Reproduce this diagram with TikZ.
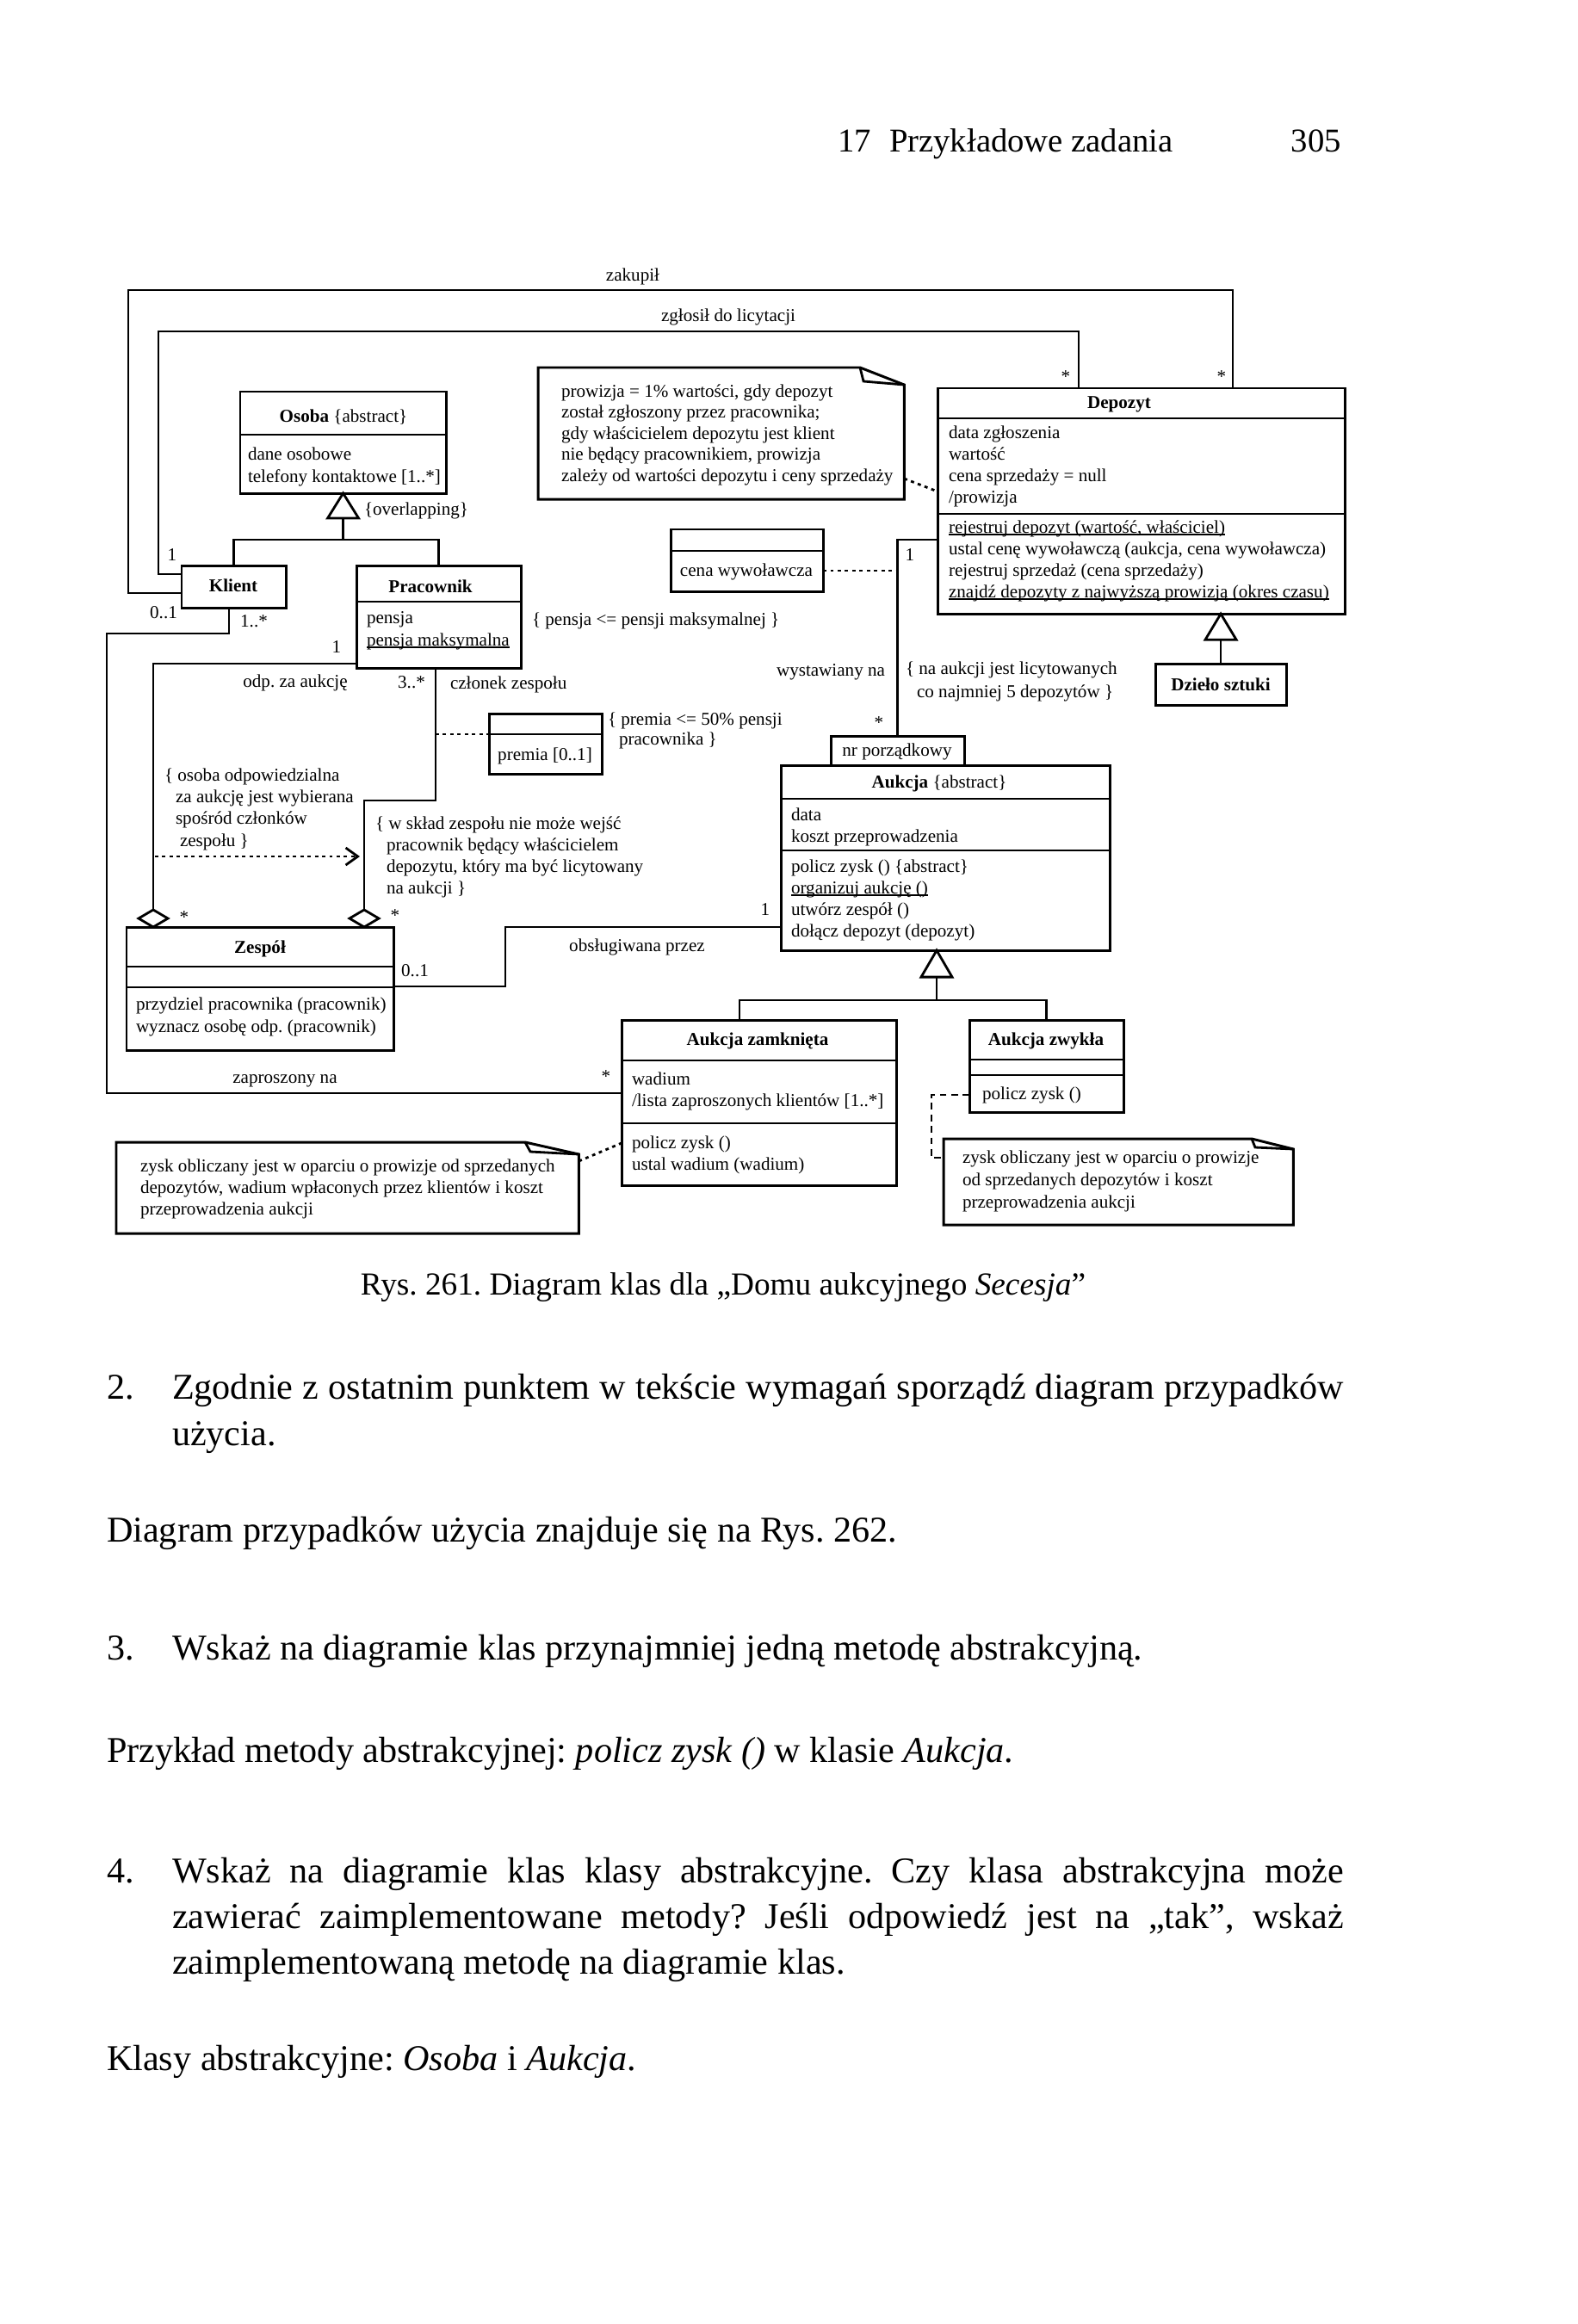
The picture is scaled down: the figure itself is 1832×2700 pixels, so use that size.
\documentclass[tikz,border=0pt]{standalone}
\usepackage{fontspec}
\setmainfont{Liberation Serif}
\usetikzlibrary{arrows.meta,shapes.geometric,calc}
\frenchspacing
\newcommand\txtlines[5]{%
  \foreach \lineitem [count=\i] in {#5}{%
    \node[dia,anchor=base west] (#1\i) at (#2,{#3+#4*(\i-1)}) {\lineitem};}}
\newcommand\ubox[5]{\node[box,minimum width=#4,minimum height=#5] (#1) at (#2,#3) {};}
\newcommand\uln[1]{\setbox0\hbox{#1}\rlap{\rule[-0.75pt]{\wd0}{0.35pt}}\box0}
\begin{document}
\begin{tikzpicture}[x=0.01cm,y=-0.01cm,
  every node/.style={inner sep=0pt,outer sep=0pt},
  dia/.style={font=\fontsize{6}{7}\selectfont},
  body/.style={font=\fontsize{12}{15}\selectfont,anchor=base west},
  box/.style={draw,line width=0.85pt,anchor=north west},
  ln/.style={line width=0.8pt},
  dot/.style={line width=0.8pt,dash pattern=on 1.1pt off 1.3pt},
  dsh/.style={line width=0.8pt,dash pattern=on 2.2pt off 1.6pt},
  tri/.style={line width=0.8pt,fill=white},
  agg/.style={diamond,draw,line width=0.8pt,fill=white,minimum width=0.34cm,minimum height=0.2cm}]
\fill[white] (0,0) rectangle (1832,2700);
\useasboundingbox (0,0) rectangle (1832,2700);

% ---------- header ----------
\node[font=\fontsize{11}{13}\selectfont,anchor=base west] (hdrA) at (973,177) {17};
\node[font=\fontsize{11}{13}\selectfont,anchor=base west] (hdrB) at (1033,177) {Przykładowe zadania};
\node[font=\fontsize{11}{13}\selectfont,anchor=base east] (hdrC) at (1558,177) {305};

% ---------- classes ----------
\ubox{osoba}{279}{455}{2.39cm}{1.18cm}
\draw[ln] (osoba.west |- 0,505) -- (osoba.east |- 0,505);
\node[dia,anchor=base] (osobaN) at (399,490) {\textbf{Osoba} \{abstract\}};
\txtlines{osobaA}{288}{534}{26}{dane osobowe,telefony kontaktowe [1..*]}

\ubox{klient}{211}{657}{1.21cm}{0.49cm}
\node[dia,anchor=base] (klientN) at (271,687) {\textbf{Klient}};

\ubox{pracownik}{414}{657}{1.91cm}{1.19cm}
\draw[ln] (pracownik.west |- 0,699) -- (pracownik.east |- 0,699);
\node[dia,anchor=base] (pracN) at (500,688) {\textbf{Pracownik}};
\txtlines{pracA}{426}{724}{26}{pensja,\uln{pensja maksymalna}}

\ubox{cena}{779}{615}{1.77cm}{0.72cm}
\draw[ln] (cena.west |- 0,640) -- (cena.east |- 0,640);
\node[dia,anchor=base] (cenaA) at (867,669) {cena wywoławcza};

\ubox{depozyt}{1089}{451}{4.73cm}{2.62cm}
\draw[ln] (depozyt.west |- 0,486) -- (depozyt.east |- 0,486);
\draw[ln] (depozyt.west |- 0,597) -- (depozyt.east |- 0,597);
\node[dia,anchor=base] (depN) at (1300,474) {\textbf{Depozyt}};
\txtlines{depA}{1102}{509}{25}{data zgłoszenia,wartość,cena sprzedaży = null,/prowizja}
\txtlines{depO}{1102}{619}{25}{{\uln{rejestruj depozyt (wartość, właściciel)}},{ustal cenę wywoławczą (aukcja, cena wywoławcza)},rejestruj sprzedaż (cena sprzedaży),{\uln{znajdź depozyty z najwyższą prowizją (okres czasu)}}}

\ubox{dzielo}{1342}{771}{1.52cm}{0.48cm}
\node[dia,anchor=base] (dzieloN) at (1418,802) {\textbf{Dzieło sztuki}};

\ubox{premia}{568}{829}{1.31cm}{0.70cm}
\draw[ln] (premia.west |- 0,853) -- (premia.east |- 0,853);
\node[dia,anchor=base] (premiaA) at (633,883) {premia [0..1]};

\ubox{qual}{965}{855}{1.55cm}{0.34cm}
\node[dia,anchor=base] (qualA) at (1042,878) {nr porządkowy};

\ubox{aukcja}{907}{889}{3.82cm}{2.15cm}
\draw[ln] (aukcja.west |- 0,928) -- (aukcja.east |- 0,928);
\draw[ln] (aukcja.west |- 0,988) -- (aukcja.east |- 0,988);
\node[dia,anchor=base] (aukN) at (1091,915) {\textbf{Aukcja} \{abstract\}};
\txtlines{aukA}{919}{953}{25}{data,koszt przeprowadzenia}
\txtlines{aukO}{919}{1013}{25}{policz zysk () \{abstract\},\uln{organizuj aukcję ()},utwórz zespół (),dołącz depozyt (depozyt)}

\ubox{zespol}{147}{1077}{3.10cm}{1.43cm}
\draw[ln] (zespol.west |- 0,1123) -- (zespol.east |- 0,1123);
\draw[ln] (zespol.west |- 0,1147) -- (zespol.east |- 0,1147);
\node[dia,anchor=base] (zespN) at (302,1107) {\textbf{Zespół}};
\txtlines{zespO}{158}{1173}{26}{przydziel pracownika (pracownik),wyznacz osobę odp. (pracownik)}

\ubox{zamk}{722}{1185}{3.19cm}{1.92cm}
\draw[ln] (zamk.west |- 0,1232) -- (zamk.east |- 0,1232);
\draw[ln] (zamk.west |- 0,1305) -- (zamk.east |- 0,1305);
\node[dia,anchor=base] (zamkN) at (880,1214) {\textbf{Aukcja zamknięta}};
\txtlines{zamkA}{734}{1260}{25}{wadium,/lista zaproszonych klientów [1..*]}
\txtlines{zamkO}{734}{1334}{25}{policz zysk (),ustal wadium (wadium)}

\ubox{zwykla}{1126}{1185}{1.79cm}{1.07cm}
\draw[ln] (zwykla.west |- 0,1231) -- (zwykla.east |- 0,1231);
\draw[ln] (zwykla.west |- 0,1249) -- (zwykla.east |- 0,1249);
\node[dia,anchor=base] (zwykN) at (1215,1214) {\textbf{Aukcja zwykła}};
\node[dia,anchor=base west] (zwykO) at (1141,1277) {policz zysk ()};

% ---------- notes ----------
\node[anchor=north west,minimum width=4.25cm,minimum height=1.53cm] (note1) at (625,427) {};
\draw[box] (note1.north west) -- (999,427) -- (note1.east |- 0,447) -- (note1.south east) -- (note1.south west) -- cycle;
\draw[ln] (999,427) -- (1003,443) -- (note1.east |- 0,447);
\txtlines{n1}{652}{461}{24.5}{{prowizja = 1\% wartości, gdy depozyt},został zgłoszony przez pracownika;,gdy właścicielem depozytu jest klient,{nie będący pracownikiem, prowizja},zależy od wartości depozytu i ceny sprzedaży}

\node[anchor=north west,minimum width=5.37cm,minimum height=1.06cm] (note2) at (135,1327) {};
\draw[box] (note2.north west) -- (610,1327) -- (note2.east |- 0,1341) -- (note2.south east) -- (note2.south west) -- cycle;
\draw[ln] (610,1327) -- (616,1338) -- (note2.east |- 0,1341);
\txtlines{n2}{163}{1361}{25}{zysk obliczany jest w oparciu o prowizje od sprzedanych,{depozytów, wadium wpłaconych przez klientów i koszt},przeprowadzenia aukcji}

\node[anchor=north west,minimum width=4.06cm,minimum height=1.00cm] (note3) at (1096,1323) {};
\draw[box] (note3.north west) -- (1454,1323) -- (note3.east |- 0,1335) -- (note3.south east) -- (note3.south west) -- cycle;
\draw[ln] (1454,1323) -- (1458,1333) -- (note3.east |- 0,1335);
\txtlines{n3}{1118}{1351}{26}{zysk obliczany jest w oparciu o prowizje,od sprzedanych depozytów i koszt,przeprowadzenia aukcji}

% ---------- generalizations ----------
\coordinate (gOt) at ($(osoba.south)+(0,29)$);
\coordinate (gOb) at ($(osoba.south)+(0,54)$);
\draw[tri] (osoba.south) -- ++(18,29) -- ++(-36,0) -- cycle;
\draw[ln] (gOt) -- (gOb);
\draw[ln] (klient.north) |- (gOb) -| (pracownik.north);

\coordinate (gDa) at (depozyt.south -| dzielo.north);
\coordinate (gDt) at ($(gDa)+(0,30)$);
\draw[tri] (gDa) -- ++(18,30) -- ++(-36,0) -- cycle;
\draw[ln] (gDt) -- (dzielo.north);

\coordinate (gAa) at (aukcja.south -| 1088,0);
\coordinate (gAt) at ($(gAa)+(0,31)$);
\coordinate (gAb) at (1088,1162);
\draw[tri] (gAa) -- ++(18,31) -- ++(-36,0) -- cycle;
\draw[ln] (gAt) -- (gAb);
\draw[ln] (zamk.north -| 859,0) |- (gAb) -| (zwykla.north);

% ---------- associations ----------
\draw[ln] (klient.west |- 0,689) -| (149,337) -| (depozyt.north -| 1432,0);
\draw[ln] (klient.west |- 0,667) -| (184,385) -| (depozyt.north -| 1253,0);
\draw[ln] (klient.south -| 266,0) |- (124,736) |- (zamk.west |- 0,1270);

\node[agg] (dA) at (178,1067) {};
\node[agg] (dB) at (423,1067) {};
\draw[ln] (pracownik.west |- 0,771) -| (dA.north);
\draw[ln] (pracownik.south -| 506,0) |- (423,930) -- (dB.north);
\coordinate (cZ) at (506,853);
\draw[dot] (cZ) -- (premia.west |- cZ);
\coordinate (cA) at (180,995);
\coordinate (cB) at (418,995);
\draw[dot,-{Straight Barb[length=1.4mm,width=2mm]}] (cA) -- (cB);

\draw[ln] (zespol.east |- 0,1146) -| (587,1077) -- (aukcja.west |- 0,1077);
\draw[ln] (depozyt.west |- 0,627) -| (qual.north);
\coordinate (cW) at (qual.north |- 0,663);
\draw[dot] (cena.east |- cW) -- (cW);
\draw[dot] (note1.east |- 0,556) -- (depozyt.west |- 0,571);
\draw[dot] (note2.east |- 0,1349) -- (zamk.west |- 0,1328);
\draw[dsh] (zwykla.west |- 0,1272) -| (1082,1345) -- (note3.west |- 0,1345);

% ---------- labels ----------
\node[dia,anchor=base] (lZak) at (735,327) {zakupił};
\node[dia,anchor=base] (lZgl) at (846,373) {zgłosił do licytacji};
\node[dia] (mS1) at (1238,438) {*};
\node[dia] (mS2) at (1419,438) {*};
\node[dia] (m1a) at (200,645) {1};
\node[dia] (m01a) at (190,712) {0..1};
\node[dia] (m1s) at (295,722) {1..*};
\node[dia,anchor=west] (lOver) at (423,593) {\{overlapping\}};
\node[dia,anchor=west] (lPensja) at (618,721) {\{ pensja <= pensji maksymalnej \}};
\node[dia] (m1b) at (391,752) {1};
\node[dia,anchor=base] (lOdp) at (343,798) {odp. za aukcję};
\node[dia] (m3s) at (478,793) {3..*};
\node[dia,anchor=base west] (lCzl) at (523,800) {członek zespołu};
\node[dia,anchor=base west] (lPr1) at (706,842) {\{ premia <= 50\% pensji};
\node[dia,anchor=base west] (lPr2) at (719,865) {pracownika \}};
\node[dia,anchor=base west] (lOs1) at (191,907) {\{ osoba odpowiedzialna};
\txtlines{lOs}{204}{932}{25.5}{za aukcję jest wybierana,spośród członków}
\node[dia,anchor=base west] (lOs4) at (209,983) {zespołu \}};
\node[dia,anchor=base west] (lSk1) at (436,963) {\{ w skład zespołu nie może wejść};
\txtlines{lSk}{449}{988}{25}{pracownik będący właścicielem,{depozytu, który ma być licytowany},na aukcji \}}
\node[dia] (mS3) at (214,1066) {*};
\node[dia] (mS4) at (459,1064) {*};
\node[dia] (m01b) at (482,1128) {0..1};
\node[dia,anchor=base] (lObs) at (740,1105) {obsługiwana przez};
\node[dia] (m1c) at (889,1057) {1};
\node[dia,anchor=base] (lZapr) at (331,1258) {zaproszony na};
\node[dia] (mS5) at (704,1251) {*};
\node[dia] (m1d) at (1057,645) {1};
\node[dia,anchor=base] (lWyst) at (965,785) {wystawiany na};
\node[dia,anchor=base west] (lNa1) at (1052,783) {\{ na aukcji jest licytowanych};
\node[dia,anchor=base west] (lNa2) at (1065,810) {co najmniej 5 depozytów \}};
\node[dia] (mS6) at (1021,840) {*};

% ---------- caption and body ----------
\node[font=\fontsize{10.6}{13}\selectfont,anchor=base] (cap) at (840,1504) {Rys. 261. Diagram klas dla „Domu aukcyjnego \textit{Secesja}”};

\node[body] (p2n) at (124,1625) {2.};
\node[body] (p2a) at (200,1625) {\makebox[13.6cm][s]{Zgodnie z ostatnim punktem w tekście wymagań sporządź diagram przypadków}};
\node[body] (p2b) at (200,1679) {użycia.};
\node[body] (pD) at (124,1791) {Diagram przypadków użycia znajduje się na Rys. 262.};
\node[body] (p3n) at (124,1928) {3.};
\node[body] (p3a) at (200,1928) {Wskaż na diagramie klas przynajmniej jedną metodę abstrakcyjną.};
\node[body] (pP) at (124,2047) {Przykład metody abstrakcyjnej: \textit{policz zysk ()} w klasie \textit{Aukcja}.};
\node[body] (p4n) at (124,2187) {4.};
\node[body] (p4a) at (200,2187) {\makebox[13.6cm][s]{Wskaż na diagramie klas klasy abstrakcyjne. Czy klasa abstrakcyjna może}};
\node[body] (p4b) at (200,2240) {\makebox[13.6cm][s]{zawierać zaimplementowane metody? Jeśli odpowiedź jest na „tak”, wskaż}};
\node[body] (p4c) at (200,2293) {zaimplementowaną metodę na diagramie klas.};
\node[body] (pK) at (124,2405) {Klasy abstrakcyjne: \textit{Osoba} i \textit{Aukcja}.};
\end{tikzpicture}
\end{document}
